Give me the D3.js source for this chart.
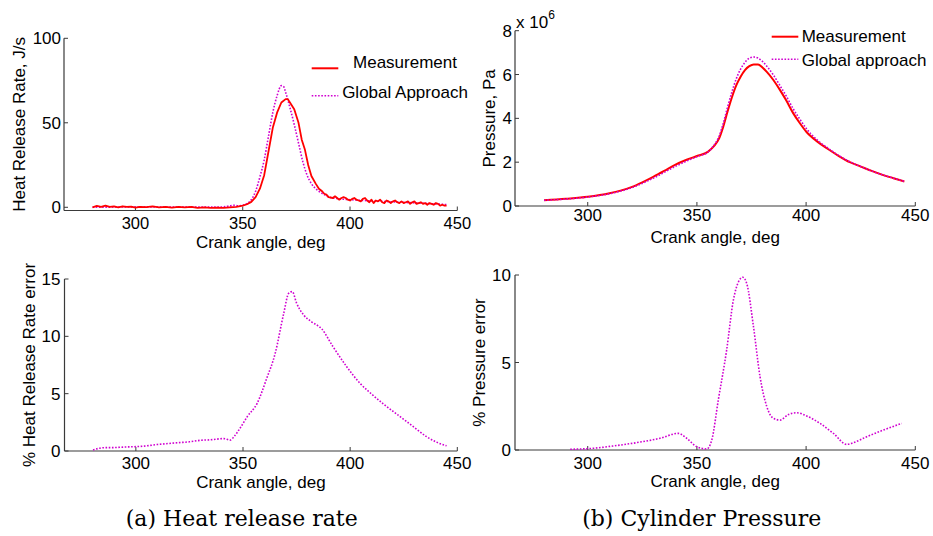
<!DOCTYPE html>
<html><head><meta charset="utf-8">
<script src="https://cdn.jsdelivr.net/npm/d3@7"></script>
<style>
body{margin:0;background:#fff;}
svg{display:block;}
text{font-family:"Liberation Sans",Arial,Helvetica,sans-serif;fill:#000;}
.cap{font-family:"DejaVu Serif","Liberation Serif",serif;}
</style></head>
<body>
<svg id="c" width="933" height="536"></svg>
<script>
// ---------- DATA ----------
// (a) Heat release rate, J/s
const hrrMeasAngle = [280,282,284,286,288,290,292,294,296,298,300,302,305,308,311,314,317,320,323,326,329,332,335,338,341,344,347,350,352,354,356,358,360,362,364,366,368,370,371,372,374,376,377.5,379,380.5,382,384,385.5,387,388,389,390,392,393,394,395,396,397,398,399,400,401,402,403,404,405,406,407,408,409,410,411,412,413,414,415,416,417,418,419,420,421,422,423,424,425,426,427,428,429,430,431,432,433,434,435,436,437,438,439,440,441,442,443,444,445];
const hrrMeas = [0.0,0.8,0.3,1.0,0.2,0.5,0.0,0.6,0.2,0.4,-0.2,0.3,0.1,0.5,0.0,0.3,-0.2,0.2,0.0,0.3,-0.3,-0.1,-0.4,-0.2,-0.3,0.0,0.3,1.0,1.8,3.2,6.0,11,19,33,47,56,62,64,64,62,58,50,40,34,25,18.5,14,11,9.5,8,7.5,6,5.5,6.5,5.5,4.5,5.5,6.0,5.5,4.5,4.0,5.0,5.5,4.5,4.0,3.5,5.0,5.5,4.0,3.0,4.5,2.5,4.0,3.5,4.5,3.0,2.5,4.0,3.5,2.5,3.5,4.0,3.0,2.5,3.5,2.5,3.0,3.5,2.0,3.0,3.5,2.0,2.5,3.0,2.0,2.5,1.5,2.5,2.0,1.5,2.5,2.0,1.0,1.5,1.0,1.0];
const hrrGlobAngle = [280,300,320,340,344,346,348,350,352,354,356,358,360,362,364,366,368,369,370,372,374,376,378,380,382,384,386,388,390,395,400,410,420,430,440,445];
const hrrGlob = [0,0.2,0.1,0.2,0.8,1.2,0.9,1.2,2.2,4.5,9.5,18,28,42,56,66,72,71.5,68,59,49,38,27,19,14,11,9,7.5,6.2,5,4.5,3.8,3.2,2.6,2.0,1.6];
const hrrErrAngle = [280,285,290,295,300,305,310,315,320,325,330,335,341,344,346,349,352,356.6,361,365,369,371.3,373,375,378.3,382,386.8,392,398.4,404.6,409.3,415.5,423.3,429.5,435.7,440,445];
const hrrErr = [0.09,0.29,0.3,0.35,0.38,0.45,0.57,0.65,0.73,0.8,0.93,0.98,1.08,0.95,1.3,2.1,3.0,4.16,6.3,8.5,12.0,13.75,13.9,12.9,11.86,11.27,10.64,9.1,7.35,5.9,5.08,4.1,3.0,2.12,1.25,0.8,0.45];
// (b) Cylinder pressure, x 10^6 Pa
const pMeasAngle = [280,290,300,310,315,320,325,330,335,340,345,350,355,358,360,362,364,366,368,370,372,374,376,378,380,382,385,388,391,394,397,400,405,410,415,420,425,430,435,440,445];
const pMeas = [0.26,0.33,0.42,0.58,0.70,0.86,1.08,1.33,1.60,1.88,2.10,2.28,2.47,2.75,3.05,3.6,4.3,4.95,5.5,5.9,6.2,6.38,6.46,6.46,6.32,6.12,5.75,5.3,4.8,4.25,3.8,3.4,2.95,2.6,2.28,2.0,1.8,1.6,1.42,1.27,1.12];
const pGlobAngle = [280,300,310,320,330,340,345,350,355,358,360,362,364,366,368,370,372,374,376,378,380,382,385,388,391,394,397,400,405,410,415,420,425,430,435,440,445];
const pGlob = [0.26,0.41,0.56,0.83,1.27,1.80,2.04,2.25,2.46,2.8,3.15,3.75,4.5,5.2,5.8,6.25,6.55,6.75,6.8,6.75,6.6,6.38,5.98,5.5,5.0,4.45,3.98,3.55,3.02,2.64,2.3,2.02,1.8,1.6,1.42,1.27,1.12];
const pErrAngle = [292,302.6,311.7,322.4,333.1,341.5,345.3,349.9,354.5,356.8,359.8,363.6,366.7,369,371,372.8,375.9,378.9,382,385,388.1,391.9,395.7,400.3,406.4,412.5,418.6,421.7,427.8,435.4,443.8];
const pErr = [0.04,0.1,0.23,0.42,0.67,0.95,0.67,0.19,0.06,0.57,2.86,5.7,8.57,9.6,9.87,9.52,7.05,4.19,2.48,1.81,1.71,2.03,2.13,1.94,1.52,0.95,0.32,0.42,0.76,1.14,1.52];
// ticks / labels
const xTicks = [300,350,400,450];
const yTicksHRR = [0,50,100];
const yTicksP = [0,2,4,6,8];
const yTicksHRRErr = [0,5,10,15];
const yTicksPErr = [0,5,10];
const xLabel = "Crank angle, deg";
const captions = ["(a) Heat release rate","(b) Cylinder Pressure"];

// ---------- DRAW ----------
const svg = d3.select("#c");
const RED = "#ff0000", MAG = "#d000d0", AX = "#3a3a3a";

function zip(a,b){return a.map((v,i)=>[v,b[i]]);}

function panel(o){
  const x = d3.scaleLinear().domain([266.7,450]).range([o.x0,o.x1]);
  const y = d3.scaleLinear().domain(o.yd).range([o.y0,o.y1]);
  const g = svg.append("g");
  g.append("line").attr("x1",o.x0).attr("x2",o.x1).attr("y1",o.y0).attr("y2",o.y0).attr("stroke",AX).attr("stroke-width",1.2);
  g.append("line").attr("x1",o.x0).attr("x2",o.x0).attr("y1",o.y0).attr("y2",o.y1).attr("stroke",AX).attr("stroke-width",1.2);
  xTicks.forEach(t=>{
    g.append("line").attr("x1",x(t)).attr("x2",x(t)).attr("y1",o.y0).attr("y2",o.y0-4).attr("stroke",AX);
    g.append("text").attr("x",x(t)).attr("y",o.xtb).attr("text-anchor","middle").attr("font-size",o.tfs||17).text(t);
  });
  o.yt.forEach(t=>{
    g.append("line").attr("x1",o.x0).attr("x2",o.x0+4).attr("y1",y(t)).attr("y2",y(t)).attr("stroke",AX);
    g.append("text").attr("x",o.x0-o.ytg).attr("y",y(t)).attr("dy","0.36em").attr("text-anchor","end").attr("font-size",17).text(t);
  });
  g.append("text").attr("x",(o.x0+o.x1)/2).attr("y",o.xlb).attr("text-anchor","middle").attr("font-size",17).text(xLabel);
  g.append("text").attr("transform",`translate(${o.ylx},${(o.y0+o.y1)/2}) rotate(-90)`).attr("text-anchor","middle").attr("font-size",17).text(o.ylab);
  const line = d3.line().x(d=>x(d[0])).y(d=>y(d[1]));
  o.series.forEach(s=>{
    g.append("path").datum(s.d).attr("fill","none").attr("stroke",s.c).attr("stroke-width",s.w)
      .attr("stroke-dasharray",s.dash||null).attr("stroke-linejoin","round")
      .attr("d",line.curve(s.curve||d3.curveLinear));
  });
  return {x,y,g};
}

// top-left
panel({x0:64,x1:457.3,y0:210.5,y1:38.3,yd:[-1.9,100],yt:yTicksHRR,ytg:3,xtb:229,tfs:16.5,xlb:247.5,ylx:25,
  ylab:"Heat Release Rate, J/s",
  series:[{d:zip(hrrGlobAngle,hrrGlob),c:MAG,w:1.6,dash:"1.6,1.6",curve:d3.curveMonotoneX},
          {d:zip(hrrMeasAngle,hrrMeas),c:RED,w:1.8}]});
// top-right
panel({x0:515,x1:915.3,y0:206,y1:30.7,yd:[0,8],yt:yTicksP,ytg:3,xtb:221,xlb:242.5,ylx:494.5,
  ylab:"Pressure, Pa",
  series:[{d:zip(pMeasAngle,pMeas),c:RED,w:2,curve:d3.curveMonotoneX},
          {d:zip(pGlobAngle,pGlob),c:MAG,w:1.6,dash:"1.6,1.6",curve:d3.curveMonotoneX}]});
// bottom-left
panel({x0:64.5,x1:457.3,y0:451,y1:279,yd:[0,15],yt:yTicksHRRErr,ytg:4,xtb:469,xlb:487.5,ylx:34.5,
  ylab:"% Heat Release Rate error",
  series:[{d:zip(hrrErrAngle,hrrErr),c:MAG,w:1.6,dash:"1.6,1.6",curve:d3.curveMonotoneX}]});
// bottom-right
panel({x0:515,x1:915.3,y0:450,y1:275,yd:[0,10],yt:yTicksPErr,ytg:4,xtb:469,xlb:487,ylx:485,
  ylab:"% Pressure error",
  series:[{d:zip(pErrAngle,pErr),c:MAG,w:1.6,dash:"1.6,1.6",curve:d3.curveMonotoneX}]});

// exponent label
const ex = svg.append("text").attr("x",516).attr("y",27.5).attr("font-size",17);
ex.append("tspan").text("x 10");
ex.append("tspan").attr("dy",-9).attr("font-size",12).text("6");

// legends
function legLine(x1,x2,y,c,dash,w){
  svg.append("line").attr("x1",x1).attr("x2",x2).attr("y1",y).attr("y2",y).attr("stroke",c).attr("stroke-width",w).attr("stroke-dasharray",dash||null);
}
legLine(311.7,338.3,68.3,RED,null,2);
svg.append("text").attr("x",405).attr("y",68.3).attr("text-anchor","middle").attr("font-size",17).text("Measurement");
legLine(311.7,338.3,95.7,MAG,"1.6,1.6",1.6);
svg.append("text").attr("x",405).attr("y",98).attr("text-anchor","middle").attr("font-size",17).text("Global Approach");

legLine(771.7,798.3,36.7,RED,null,2);
svg.append("text").attr("x",801.7).attr("y",41.7).attr("font-size",17).text("Measurement");
legLine(771.7,798.3,59.3,MAG,"1.6,1.6",1.6);
svg.append("text").attr("x",801.7).attr("y",66).attr("font-size",17).text("Global approach");

// captions
svg.append("text").attr("class","cap").attr("x",241.7).attr("y",526).attr("text-anchor","middle").attr("font-size",22).text(captions[0]);
svg.append("text").attr("class","cap").attr("x",701.7).attr("y",526).attr("text-anchor","middle").attr("font-size",22).text(captions[1]);
</script>
</body></html>
